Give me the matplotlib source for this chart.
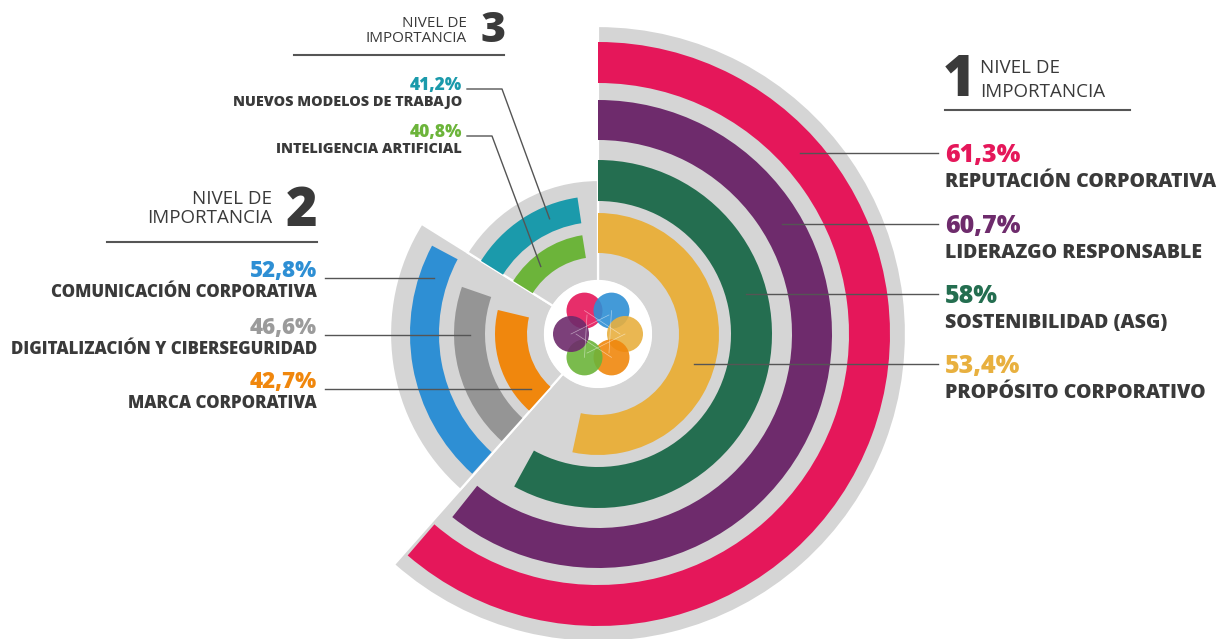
import numpy as np
import matplotlib
matplotlib.use("Agg")
import matplotlib.pyplot as plt
from matplotlib.patches import Circle

# ---- data ----
g1_labels = ["REPUTACIÓN CORPORATIVA", "LIDERAZGO RESPONSABLE",
             "SOSTENIBILIDAD (ASG)", "PROPÓSITO CORPORATIVO"]
g1_values = [61.3, 60.7, 58.0, 53.4]
g1_text = ["61,3%", "60,7%", "58%", "53,4%"]

g2_labels = ["COMUNICACIÓN CORPORATIVA", "DIGITALIZACIÓN Y CIBERSEGURIDAD",
             "MARCA CORPORATIVA"]
g2_values = [52.8, 46.6, 42.7]
g2_text = ["52,8%", "46,6%", "42,7%"]

g3_labels = ["NUEVOS MODELOS DE TRABAJO", "INTELIGENCIA ARTIFICIAL"]
g3_values = [41.2, 40.8]
g3_text = ["41,2%", "40,8%"]

# ---- styles / layout ----
g1_colors = ["#e5175a", "#6e2b6c", "#246e50", "#e8b03f"]
g2_colors = ["#2e8fd4", "#959595", "#f0870d"]
g3_colors = ["#1b9aab", "#6cb43a"]
g2_textcolors = ["#2e8fd4", "#9b9b9b", "#f0870d"]
BG = "#d5d5d5"
DARK = "#3a3a3a"
LINE = "#555555"
BOLD = 800

W, H = 1230, 639
CX, CY = 598, 334
RMAX = 320
R_HOLE = 53

# ring radii (inner, outer) in px, order of the data lists
g1_rings = [(251, 292), (194, 234), (133, 174), (81, 121)]
g2_rings = [(159, 188), (113, 144), (71, 103)]
g3_rings = [(112, 138), (77, 100)]
bg_outer = [308, 208, 154]
sectors = [(0, 221.5), (221.5, 302), (302, 360)]
deg_per_pct = [3.6, 1.44, 1.2]
bar_start = [0, 222.0, 302]

plt.rcParams["font.family"] = ["Open Sans", "DejaVu Sans"]

fig = plt.figure(figsize=(W / 100, H / 100), dpi=100)
ax = fig.add_axes([(CX - RMAX) / W, (H - CY - RMAX) / H, 2 * RMAX / W, 2 * RMAX / H],
                  projection="polar")
ax.set_theta_zero_location("N")
ax.set_theta_direction(-1)
ax.set_rlim(0, RMAX)
ax.axis("off")

# grey sectors
for (a0, a1), rout in zip(sectors, bg_outer):
    ax.bar(np.deg2rad(a0), rout - R_HOLE, width=np.deg2rad(a1 - a0), bottom=R_HOLE,
           align="edge", color=BG, edgecolor="white", linewidth=1.6)

groups = [(g1_values, g1_rings, g1_colors), (g2_values, g2_rings, g2_colors),
          (g3_values, g3_rings, g3_colors)]
for gi, (vals, rings, cols) in enumerate(groups):
    for v, (r0, r1), c in zip(vals, rings, cols):
        ax.bar(np.deg2rad(bar_start[gi]), r1 - r0, width=np.deg2rad(v * deg_per_pct[gi]),
               bottom=r0, align="edge", color=c, linewidth=0)

# overlay in pixel coordinates for text, leaders and the logo
ov = fig.add_axes([0, 0, 1, 1])
ov.set_xlim(0, W)
ov.set_ylim(H, 0)
ov.axis("off")


def ring_x(r, y, side):
    return CX + side * np.sqrt(r ** 2 - (CY - y) ** 2)


def polar_pt(r, theta):
    t = np.deg2rad(theta)
    return CX + r * np.sin(t), CY - r * np.cos(t)


# logo
ov.add_patch(Circle((CX, CY), R_HOLE, color="white", zorder=2))
logo_cols = ["#e5175a", "#2e8fd4", "#e8b03f", "#f0870d", "#6cb43a", "#6e2b6c"]
for k, c in enumerate(logo_cols):
    a = np.deg2rad(120 - 60 * k)
    ov.add_patch(Circle((CX + 27 * np.cos(a), CY - 27 * np.sin(a)), 18,
                        color=c, alpha=0.9, lw=0, zorder=3))
for k in range(6):
    a = np.deg2rad(120 - 60 * k)
    b = np.deg2rad(120 - 60 * (k + 2))
    ov.plot([CX + 27 * np.cos(a), CX + 22 * np.cos(b)],
            [CY - 27 * np.sin(a), CY - 22 * np.sin(b)],
            color="white", lw=0.5, alpha=0.5, zorder=4)

# group 1 (right)
ov.text(943, 96, "1", fontsize=40, fontweight=BOLD, color=DARK, ha="left", va="baseline")
ov.text(980, 73, "NIVEL DE", fontsize=13.5, color=DARK, ha="left", va="baseline")
ov.text(980, 97, "IMPORTANCIA", fontsize=13.5, color=DARK, ha="left", va="baseline")
ov.plot([945, 1130], [110, 110], color=LINE, lw=1.5)
pct_y1 = [162, 233, 303, 373]
for i in range(4):
    y = pct_y1[i]
    ov.text(945, y, g1_text[i], fontsize=18, fontweight=BOLD, color=g1_colors[i],
            ha="left", va="baseline")
    ov.text(945, y + 25, g1_labels[i], fontsize=14, fontweight=BOLD, color=DARK,
            ha="left", va="baseline")
    ly = y - 9
    rm = sum(g1_rings[i]) / 2
    ov.plot([ring_x(rm, ly, 1), 938], [ly, ly], color=LINE, lw=1, zorder=5)

# group 2 (left)
ov.text(318, 226, "2", fontsize=39, fontweight=BOLD, color=DARK, ha="right", va="baseline")
ov.text(272, 204, "NIVEL DE", fontsize=13.5, color=DARK, ha="right", va="baseline")
ov.text(272, 223, "IMPORTANCIA", fontsize=13.5, color=DARK, ha="right", va="baseline")
ov.plot([107, 317], [242, 242], color=LINE, lw=1.5)
pct_y2 = [277, 334, 388]
for i in range(3):
    y = pct_y2[i]
    ov.text(317, y, g2_text[i], fontsize=16, fontweight=BOLD, color=g2_textcolors[i],
            ha="right", va="baseline")
    ov.text(317, y + 20, g2_labels[i], fontsize=12.2, fontweight=BOLD, color=DARK,
            ha="right", va="baseline")
    ly = y + 1
    rm = sum(g2_rings[i]) / 2
    ov.plot([325, ring_x(rm, ly, -1)], [ly, ly], color=LINE, lw=1, zorder=5)

# group 3 (top)
ov.text(480, 42, "3", fontsize=31, fontweight=BOLD, color=DARK, ha="left", va="baseline")
ov.text(467, 27, "NIVEL DE", fontsize=11, color=DARK, ha="right", va="baseline")
ov.text(467, 42, "IMPORTANCIA", fontsize=11, color=DARK, ha="right", va="baseline")
ov.plot([294, 504], [55, 55], color=LINE, lw=1.5)
pct_y3 = [90, 137]
knee_x = [502, 492]
anchor_theta = [337.2, 319.7]
for i in range(2):
    y = pct_y3[i]
    ov.text(462, y, g3_text[i], fontsize=12.5, fontweight=BOLD, color=g3_colors[i],
            ha="right", va="baseline")
    ov.text(462, y + 16, g3_labels[i], fontsize=10.4, fontweight=BOLD, color=DARK,
            ha="right", va="baseline")
    ex, ey = polar_pt(sum(g3_rings[i]) / 2, anchor_theta[i])
    ov.plot([467, knee_x[i], ex], [y - 1, y - 1, ey], color=LINE, lw=1, zorder=5)

fig.savefig("out.png", dpi=100, facecolor="white")
